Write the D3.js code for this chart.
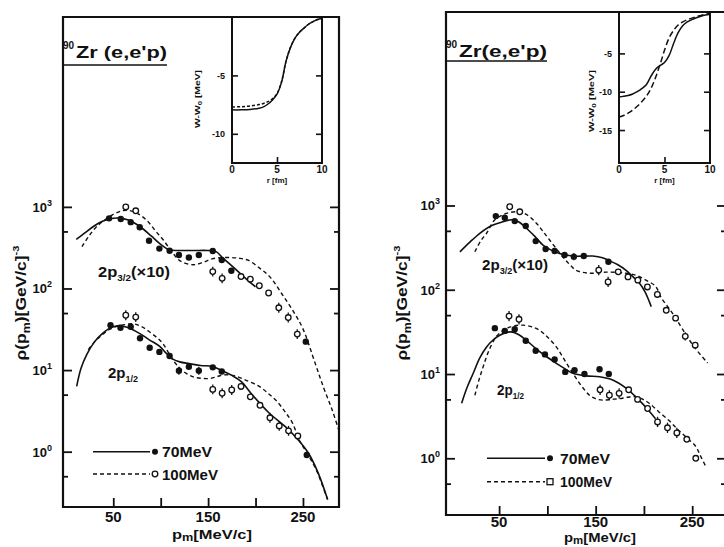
<!DOCTYPE html>
<html><head><meta charset="utf-8">
<script src="https://cdn.jsdelivr.net/npm/d3@7"></script>
<style>
body{margin:0;background:#fff}
svg{display:block}
text{font-family:"Liberation Sans",Arial,sans-serif;fill:#111;font-weight:bold}
</style></head><body>
<svg id="fig" width="724" height="547"></svg>
<script>
// ---------- Panel (a) : measured momentum densities [p_m (MeV/c), rho, relative error] ----------
const aUp70  = [[45.6,724,0],[57.9,710,0],[68.4,650,0],[77.9,562,0],[87.7,385,0],[98.6,308,0],[109.4,290,0],[119.2,257,0],[129.7,240,0],[140.2,257,0],[154.9,288,0],[164.4,223,0],[174.5,165,0],[253,22.3,0]];
const aUp100 = [[63.2,1000,0],[73.7,895,0],[154.9,161,0.15],[164.8,133,0.15],[184.7,140,0],[194.5,130,0],[204,108,0],[213.8,88,0],[224.5,58,0.15],[234.5,44,0.15],[244,27.6,0.15]];
const aLo70  = [[47.1,35.4,0],[57.6,33,0],[68.4,34,0],[78.2,24.5,0],[88.4,18.8,0],[98.6,16.7,0],[109.4,14.9,0],[119.2,9.8,0.12],[129.7,11,0],[140.2,9.8,0.12],[154.9,10.8,0],[164.4,9.6,0],[254,0.91,0]];
const aLo100 = [[63.2,47,0.15],[73.7,44.6,0.15],[154.9,5.8,0.15],[164.8,5.2,0.15],[174.9,5.7,0.15],[184.7,6.3,0],[194.5,4.7,0],[204.7,3.7,0],[215.2,2.6,0.15],[225,2.07,0.15],[234.8,1.8,0.15],[244.6,1.56,0]];
// calculated curves, panel (a)
const aCurveUp70  = [[11,400],[20,480],[29,575],[38,660],[48,720],[56,728],[66,690],[78,575],[90,440],[99,355],[109,298],[120,292],[135,292],[150,292],[158,285],[166,234],[180,168],[193,122],[200,105]];
const aCurveUp100 = [[17,325],[25,450],[33,580],[46,760],[56,870],[64,910],[74,850],[85,690],[95,500],[103,390],[113,270],[120,220],[134,195],[145,210],[155,232],[169,240],[182,235],[192,222],[205,175],[216,135],[228,85],[240,52],[250,32],[263,12],[272,6],[281,3.2],[288,1.8]];
const aCurveLo70  = [[11.4,6.3],[16,10.5],[22,15.5],[30,22],[37,27],[45,32],[52,34.5],[58,35],[66,33],[78,28],[88,23.5],[99,19.5],[106,16],[112,13.8],[120,12.6],[130,12],[142,11.4],[155,11],[165,9.8],[175,8.6],[185,7.2],[197,4.9],[214,3.0],[232,2.0],[246,1.35],[256,0.95],[266,0.55],[276,0.26]];
const aCurveLo100 = [[23.6,17.8],[30,22],[36,25.7],[45,31],[53,34],[62,36],[71,37],[80,34],[88,29.5],[96,25],[102,21.4],[108,16.5],[113,13.2],[120,10.6],[127,9.1],[135,8.2],[144,7.9],[152,7.9],[158,8.2],[165,8.7],[176,8.6],[190,7.5],[204,6.3],[214,5.1],[222,4.2],[231,3.1],[239,2.24],[246,1.4],[255,0.93],[264,0.6],[270,0.4],[276,0.26]];
// potential depth W - W0 (MeV) against r (fm), panel (a)
const aInsetR    = [0,1,2,3,3.5,4,4.5,5,5.5,6,6.5,7,7.5,8,8.5,9,9.5,10];
const aInsetW70  = [-7.95,-7.95,-7.92,-7.82,-7.7,-7.45,-7.1,-6.6,-5.6,-3.8,-2.6,-1.8,-1.3,-0.95,-0.62,-0.4,-0.22,-0.1];
const aInsetW100 = [-7.7,-7.68,-7.62,-7.5,-7.4,-7.25,-7.0,-6.55,-5.55,-3.8,-2.6,-1.8,-1.3,-0.95,-0.62,-0.4,-0.22,-0.1];

// ---------- Panel (b) ----------
const bUp70  = [[46.6,748,0],[55.9,714,0],[66.2,653,0],[77.6,570,0],[87.9,378,0],[98.2,304,0],[107.5,288,0],[117.8,258,0],[127.4,247,0.1],[137.7,251,0],[163.2,215,0]];
const bUp100 = [[61,966,0],[71.4,841,0],[153.2,171,0.15],[162.9,124,0.15],[173.4,163,0],[183.5,142,0],[193.7,130,0],[203.6,108,0],[213.9,88,0],[223.1,57,0],[232.8,46,0],[242.8,28,0.12],[253.1,22,0]];
const bLo70  = [[45.6,35,0],[55.9,32.5,0],[66.2,34,0],[77.6,24.8,0],[87.9,18.9,0],[97.5,17.1,0],[107.5,14.9,0],[118.5,10.6,0],[128.1,11.1,0],[138.4,10,0],[154,11.4,0],[163.6,10,0]];
const bLo100 = [[60.3,48.7,0.15],[70.6,44.6,0.15],[154.6,6.5,0.15],[164.2,5.6,0.15],[174.3,5.9,0.15],[184.2,6.5,0],[193.4,5.0,0],[203.8,3.9,0],[214.1,2.7,0.15],[224.4,2.3,0.15],[234.1,2.0,0.15],[244.4,1.68,0],[253.7,1.0,0]];
const bCurveUp70  = [[9.4,282],[20,370],[30,468],[40,560],[50.7,624],[62.8,676],[70,640],[78.3,537],[87,430],[95.4,339],[104,295],[112.6,269],[126,251],[147,251],[157,240],[164.2,221],[173,198],[181.5,170],[188,145],[195.2,120],[201,95],[207.6,63]];
const bCurveUp100 = [[24.9,282],[31,380],[37,468],[45.6,676],[57.6,805],[71.4,841],[80,760],[88.6,617],[95,500],[102.3,389],[116.1,245],[123,200],[129.9,170],[143.6,157],[160.8,162],[181.5,157],[192,148],[202,130],[212,110],[218,80],[225,62],[232,48],[240,34],[252,21],[266,13.5]];
const bCurveLo70  = [[11.2,4.5],[17,7.0],[23.2,10.2],[30,15.5],[37,20.9],[44,25.5],[50.7,28.8],[57,31],[62.8,31.6],[70,29.5],[78.3,25.1],[85,21.5],[92,18.4],[100,15.8],[109.3,13.4],[118,11.6],[126.4,10.2],[140.2,9.5],[154,9.3],[167.7,8.5],[181.5,6.8],[195,4.9],[204,3.8],[212,2.95]];
const bCurveLo100 = [[24.9,5.6],[29,8.4],[33.5,12.2],[39,18.5],[45.6,26.3],[51,31],[57.6,34.7],[65,37.2],[74.8,38],[85,36],[92,33],[100,27.5],[109.3,21],[118,14.5],[126.4,10.2],[135,7.3],[143.6,5.6],[150,5.1],[157.4,4.9],[166,5.0],[174.6,5.1],[183,5.3],[191.8,5.4],[199,5.0],[205.5,4.5],[215,3.6],[226,2.8],[235,2.2],[243.3,1.8],[253.7,1.38],[258,1.1],[264.3,0.79]];
const bInsetR    = [0,0.5,1,1.5,2,2.5,3,3.5,4,4.5,5,5.5,6,6.5,7,7.5,8,8.5,9,9.5,10];
const bInsetW70  = [-10.7,-10.6,-10.5,-10.3,-10.0,-9.6,-9.1,-8.0,-7.1,-6.6,-6.2,-5.3,-3.7,-2.3,-1.4,-0.9,-0.6,-0.35,-0.15,0,0.1];
const bInsetW100 = [-13.3,-13.1,-12.8,-12.4,-11.9,-11.3,-10.6,-9.6,-8.2,-6.5,-4.6,-3.0,-2.0,-1.3,-0.9,-0.6,-0.4,-0.2,-0.05,0.1,0.2];

// axis ticks and labels
const xMajor = [50,150,250];
const xMinor = [100,200];
const yDecades = [1,10,100,1000];
const yHalf = [0.5,5,50,500];
const rTicks = [0,5,10];
const legendLabels = ["70MeV","100MeV"];

const svg = d3.select("#fig");
const INK = "#111";

function supText(g, x, y, parts, opts = {}) {
  const t = g.append("text").attr("x", x).attr("y", y)
    .attr("font-size", opts.size || 14)
    .attr("text-anchor", opts.anchor || "start");
  if (opts.transform) t.attr("transform", opts.transform);
  if (opts.len) t.attr("textLength", opts.len).attr("lengthAdjust", "spacingAndGlyphs");
  parts.forEach(p => {
    const s = t.append("tspan").text(p.t);
    if (p.size) s.attr("font-size", p.size);
    if (p.dy) s.attr("dy", p.dy);
  });
  return t;
}

function drawPanel(c) {
  const g = svg.append("g");
  const x = d3.scaleLinear().domain(c.xDom).range([c.fx0, c.fx1]);
  const y = d3.scaleLog().domain(c.yDom).range([c.fy1, c.fy0]);

  // frame
  g.append("path")
    .attr("d", `M${c.fx0},${c.fy0}H${c.fx1}V${c.fy1}H${c.fx0}Z`)
    .attr("fill", "none").attr("stroke", INK).attr("stroke-width", 2.2);

  // inward ticks via d3 axes
  const axes = [
    [d3.axisLeft(y).tickValues(yDecades).tickSize(-9), `translate(${c.fx0},0)`],
    [d3.axisLeft(y).tickValues(yHalf).tickSize(-5), `translate(${c.fx0},0)`],
    [d3.axisRight(y).tickValues(yDecades).tickSize(-9), `translate(${c.fx1},0)`],
    [d3.axisRight(y).tickValues(yHalf).tickSize(-5), `translate(${c.fx1},0)`],
    [d3.axisBottom(x).tickValues(xMajor.concat(xMinor)).tickSize(-9), `translate(0,${c.fy1})`]
  ];
  axes.forEach(([ax, tr]) => {
    const a = g.append("g").attr("transform", tr).call(ax.tickFormat(""));
    a.select(".domain").remove();
    a.selectAll("line").attr("stroke", INK).attr("stroke-width", 1.8);
  });

  // y tick labels 10^n
  yDecades.forEach(v => {
    const n = Math.round(Math.log10(v));
    supText(g, c.yLabX, y(v) + 5, [{t: "10"}, {t: String(n), size: 9, dy: -6}], {anchor: "end", size: 13});
  });
  // x tick labels
  xMajor.forEach(v => {
    g.append("text").attr("x", x(v)).attr("y", c.xLabY).attr("text-anchor", "middle")
      .attr("font-size", 15).text(v);
  });
  // axis titles
  supText(g, c.xTitle[0], c.xTitle[1], [{t: "p"}, {t: "m", size: 10, dy: 2}, {t: "[MeV/c]", dy: -2}],
    {anchor: "middle", size: 13, len: c.xTitle[2]});
  supText(g, 0, 0, [{t: "ρ(p"}, {t: "m", size: 10, dy: 4}, {t: ")[GeV/c]", dy: -4}, {t: "-3", size: 9, dy: -7}],
    {anchor: "middle", size: 14, len: 115, transform: `translate(${c.yTitleX},${c.yTitleY}) rotate(-90)`});

  // reaction label
  g.append("text").attr("x", c.title[0]).attr("y", c.title[1] - 9).attr("font-size", 10).text("90");
  g.append("text").attr("x", c.title[0] + 13).attr("y", c.title[1]).attr("font-size", 17)
    .attr("textLength", c.title[2]).attr("lengthAdjust", "spacingAndGlyphs").text(c.titleText);
  g.append("line").attr("x1", c.title[0]).attr("x2", c.title[0] + 13 + c.title[2])
    .attr("y1", c.title[3]).attr("y2", c.title[3]).attr("stroke", INK).attr("stroke-width", 1.6);

  // state labels
  supText(g, c.lab32[0], c.lab32[1], [{t: "2p"}, {t: "3/2", size: 9, dy: 4}, {t: "(×10)", dy: -4}],
    {size: 15, len: c.lab32[2]});
  supText(g, c.lab12[0], c.lab12[1], [{t: "2p"}, {t: "1/2", size: 9, dy: 4}],
    {size: 15, len: c.lab12[2]});

  // curves
  const line = d3.line().x(d => x(d[0])).y(d => y(d[1])).curve(d3.curveCatmullRom.alpha(0.5));
  c.curves70.forEach(cv => g.append("path").attr("d", line(cv)).attr("fill", "none")
    .attr("stroke", INK).attr("stroke-width", 1.6));
  c.curves100.forEach(cv => g.append("path").attr("d", line(cv)).attr("fill", "none")
    .attr("stroke", INK).attr("stroke-width", 1.4).attr("stroke-dasharray", "4,3"));

  // data with error bars
  const pts = (data, filled) => {
    data.filter(d => d[2] > 0).forEach(d => g.append("line")
      .attr("x1", x(d[0])).attr("x2", x(d[0]))
      .attr("y1", y(d[1] * (1 + d[2]))).attr("y2", y(d[1] / (1 + d[2])))
      .attr("stroke", INK).attr("stroke-width", 1.3));
    g.selectAll(null).data(data).join("circle")
      .attr("cx", d => x(d[0])).attr("cy", d => y(d[1]))
      .attr("r", filled ? 3.2 : 2.8)
      .attr("fill", filled ? INK : "#fff")
      .attr("stroke", INK).attr("stroke-width", filled ? 0 : 1.3);
  };
  c.pts100.forEach(d => pts(d, false));
  c.pts70.forEach(d => pts(d, true));

  // legend
  const L = c.legend;
  g.append("line").attr("x1", L.x0).attr("x2", L.x1).attr("y1", L.y[0]).attr("y2", L.y[0])
    .attr("stroke", INK).attr("stroke-width", 1.6);
  g.append("circle").attr("cx", L.x1 + 5).attr("cy", L.y[0]).attr("r", 3).attr("fill", INK);
  g.append("line").attr("x1", L.x0).attr("x2", L.x1).attr("y1", L.y[1]).attr("y2", L.y[1])
    .attr("stroke", INK).attr("stroke-width", 1.4).attr("stroke-dasharray", "4,3");
  if (c.squareKey) {
    g.append("rect").attr("x", L.x1 + 2).attr("y", L.y[1] - 3).attr("width", 6).attr("height", 6)
      .attr("fill", "#fff").attr("stroke", INK).attr("stroke-width", 1.3);
  } else {
    g.append("circle").attr("cx", L.x1 + 5).attr("cy", L.y[1]).attr("r", 2.8)
      .attr("fill", "#fff").attr("stroke", INK).attr("stroke-width", 1.3);
  }
  legendLabels.forEach((t, i) => g.append("text").attr("x", L.tx).attr("y", L.y[i] + 5.5)
    .attr("font-size", 15).attr("textLength", L.tw[i]).attr("lengthAdjust", "spacingAndGlyphs").text(t));

  // inset: potential depth
  const I = c.inset;
  const xr = d3.scaleLinear().domain([0, 10]).range([I.x0, I.x1]);
  const yw = d3.scaleLinear().domain(I.wDom).range([I.y0, I.y1]);
  const ig = g.append("g");
  ig.append("rect").attr("x", I.x0).attr("y", I.y0).attr("width", I.x1 - I.x0).attr("height", I.y1 - I.y0)
    .attr("fill", "#fff").attr("stroke", INK).attr("stroke-width", 2);
  [[d3.axisLeft(yw), I.x0, 0], [d3.axisRight(yw), I.x1, 0]].forEach(([ax, tx]) => {
    const a = ig.append("g").attr("transform", `translate(${tx},0)`)
      .call(ax.tickValues(I.wTicks).tickSize(-6).tickFormat(""));
    a.select(".domain").remove();
    a.selectAll("line").attr("stroke", INK).attr("stroke-width", 1.6);
  });
  const ab = ig.append("g").attr("transform", `translate(0,${I.y1})`)
    .call(d3.axisBottom(xr).tickValues([5]).tickSize(-6).tickFormat(""));
  ab.select(".domain").remove();
  ab.selectAll("line").attr("stroke", INK).attr("stroke-width", 1.6);
  I.wTicks.forEach(v => ig.append("text").attr("x", I.x0 - 7).attr("y", yw(v) + 3.5)
    .attr("text-anchor", "end").attr("font-size", 9).text(v));
  rTicks.forEach(v => ig.append("text").attr("x", xr(v)).attr("y", I.y1 + 10)
    .attr("text-anchor", "middle").attr("font-size", 10).text(v));
  ig.append("text").attr("x", xr(5)).attr("y", I.y1 + 20).attr("text-anchor", "middle")
    .attr("font-size", 8).text("r [fm]");
  supText(ig, 0, 0, [{t: "W-W"}, {t: "0", size: 6, dy: 2}, {t: " [MeV]", dy: -2}],
    {anchor: "middle", size: 8, len: I.labLen, transform: `translate(${I.labX},${I.labY}) rotate(-90)`});
  const pl = d3.line().x(d => xr(d[0])).y(d => yw(d[1])).curve(d3.curveCatmullRom.alpha(0.5));
  ig.append("path").attr("d", pl(I.r.map((r, i) => [r, I.w70[i]]))).attr("fill", "none")
    .attr("stroke", INK).attr("stroke-width", 1.5);
  ig.append("path").attr("d", pl(I.r.map((r, i) => [r, I.w100[i]]))).attr("fill", "none")
    .attr("stroke", INK).attr("stroke-width", 1.5).attr("stroke-dasharray", I.dash);
}

drawPanel({
  fx0: 63, fx1: 339, fy0: 17, fy1: 507,
  xDom: [-3, 288], yDom: [Math.pow(10, -0.678), Math.pow(10, 5.327)],
  yLabX: 52, xLabY: 522,
  xTitle: [212, 539, 80], yTitleX: 26, yTitleY: 303,
  title: [63, 58, 91, 65], titleText: "Zr (e,e'p)",
  lab32: [98, 277, 72], lab12: [108, 378, 30],
  curves70: [aCurveUp70, aCurveLo70], curves100: [aCurveUp100, aCurveLo100],
  pts70: [aUp70, aLo70], pts100: [aUp100, aLo100],
  legend: {x0: 93, x1: 150, y: [451.7, 474], tx: 162, tw: [50, 56]},
  squareKey: false,
  inset: {x0: 232, x1: 322, y0: 17, y1: 163, wDom: [0, -12.5], wTicks: [-5, -10],
          r: aInsetR, w70: aInsetW70, w100: aInsetW100, labX: 200, labY: 99, labLen: 58, dash: "3,2"}
});

drawPanel({
  fx0: 446, fx1: 726, fy0: 12, fy1: 515,
  xDom: [-5, 285], yDom: [Math.pow(10, -0.673), Math.pow(10, 5.296)],
  yLabX: 440, xLabY: 527,
  xTitle: [600, 542, 72], yTitleX: 407, yTitleY: 303,
  title: [446, 57, 88, 61], titleText: "Zr(e,e'p)",
  lab32: [482, 270, 66], lab12: [497, 395, 27],
  curves70: [bCurveUp70, bCurveLo70], curves100: [bCurveUp100, bCurveLo100],
  pts70: [bUp70, bLo70], pts100: [bUp100, bLo100],
  legend: {x0: 487, x1: 545, y: [458.3, 481.7], tx: 560, tw: [50, 52]},
  squareKey: true,
  inset: {x0: 619, x1: 710, y0: 12, y1: 163, wDom: [0.4, -19.3], wTicks: [-5, -10, -15],
          r: bInsetR, w70: bInsetW70, w100: bInsetW100, labX: 594, labY: 101, labLen: 62, dash: "6,3"}
});
</script>
</body></html>
